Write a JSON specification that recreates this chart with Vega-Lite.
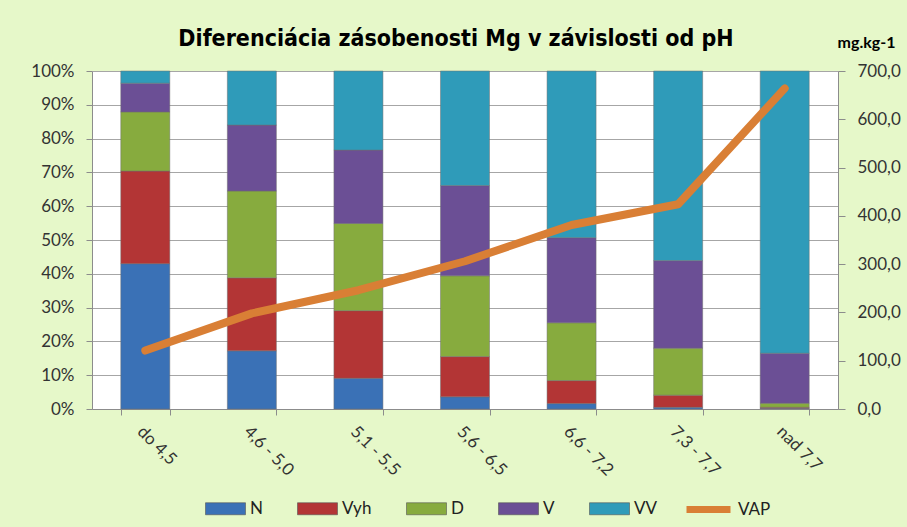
{
  "$schema": "https://vega.github.io/schema/vega-lite/v6.json",
  "width": 746,
  "height": 338,
  "autosize": {"type": "none"},
  "padding": {"left": 92, "top": 71, "right": 69, "bottom": 118},
  "background": "#e6f8c9",
  "config": {
    "view": {"fill": "white", "stroke": null},
    "font": "Lato",
    "axis": {"labelFont": "Lato", "labelFontSize": 17, "labelColor": "#333333", "domainColor": "#8c8c8c", "tickColor": "#8c8c8c"}
  },
  "title": {
    "text": "Diferenciácia zásobenosti Mg v závislosti od pH",
    "font": "Liberation Sans Narrow, DejaVu Sans Condensed, sans-serif",
    "fontSize": 23,
    "fontWeight": "bold",
    "color": "#000000",
    "anchor": "middle",
    "dx": -9,
    "offset": -17
  },
  "datasets": {
    "bars": [
      {"cat": "do 4,5", "series": "N", "value": 43.0},
      {"cat": "do 4,5", "series": "Vyh", "value": 27.4},
      {"cat": "do 4,5", "series": "D", "value": 17.5},
      {"cat": "do 4,5", "series": "V", "value": 8.5},
      {"cat": "do 4,5", "series": "VV", "value": 3.6},
      {"cat": "4,6 - 5,0", "series": "N", "value": 17.2},
      {"cat": "4,6 - 5,0", "series": "Vyh", "value": 21.6},
      {"cat": "4,6 - 5,0", "series": "D", "value": 25.7},
      {"cat": "4,6 - 5,0", "series": "V", "value": 19.5},
      {"cat": "4,6 - 5,0", "series": "VV", "value": 16.0},
      {"cat": "5,1 - 5,5", "series": "N", "value": 9.1},
      {"cat": "5,1 - 5,5", "series": "Vyh", "value": 20.0},
      {"cat": "5,1 - 5,5", "series": "D", "value": 25.8},
      {"cat": "5,1 - 5,5", "series": "V", "value": 21.7},
      {"cat": "5,1 - 5,5", "series": "VV", "value": 23.4},
      {"cat": "5,6 - 6,5", "series": "N", "value": 3.6},
      {"cat": "5,6 - 6,5", "series": "Vyh", "value": 11.9},
      {"cat": "5,6 - 6,5", "series": "D", "value": 23.9},
      {"cat": "5,6 - 6,5", "series": "V", "value": 26.7},
      {"cat": "5,6 - 6,5", "series": "VV", "value": 33.9},
      {"cat": "6,6 - 7,2", "series": "N", "value": 1.6},
      {"cat": "6,6 - 7,2", "series": "Vyh", "value": 6.8},
      {"cat": "6,6 - 7,2", "series": "D", "value": 17.1},
      {"cat": "6,6 - 7,2", "series": "V", "value": 25.2},
      {"cat": "6,6 - 7,2", "series": "VV", "value": 49.3},
      {"cat": "7,3 - 7,7", "series": "N", "value": 0.5},
      {"cat": "7,3 - 7,7", "series": "Vyh", "value": 3.6},
      {"cat": "7,3 - 7,7", "series": "D", "value": 13.9},
      {"cat": "7,3 - 7,7", "series": "V", "value": 25.9},
      {"cat": "7,3 - 7,7", "series": "VV", "value": 56.1},
      {"cat": "nad 7,7", "series": "N", "value": 0.2},
      {"cat": "nad 7,7", "series": "Vyh", "value": 0.3},
      {"cat": "nad 7,7", "series": "D", "value": 1.2},
      {"cat": "nad 7,7", "series": "V", "value": 14.8},
      {"cat": "nad 7,7", "series": "VV", "value": 83.5}
    ],
    "vap": [
      {"cat": "do 4,5", "vap": 121},
      {"cat": "4,6 - 5,0", "vap": 198},
      {"cat": "5,1 - 5,5", "vap": 246},
      {"cat": "5,6 - 6,5", "vap": 306},
      {"cat": "6,6 - 7,2", "vap": 381},
      {"cat": "7,3 - 7,7", "vap": 424},
      {"cat": "nad 7,7", "vap": 664}
    ]
  },
  "layer": [
    {
      "data": {"name": "bars"},
      "transform": [{"calculate": "indexof(['N','Vyh','D','V','VV'], datum.series)", "as": "stackOrder"}],
      "mark": {"type": "bar", "stroke": "#6f6f6f", "strokeWidth": 0.7, "strokeOpacity": 0.7},
      "encoding": {
        "x": {
          "field": "cat", "type": "nominal", "sort": null,
          "scale": {"paddingInner": 0.54, "paddingOuter": 0.27},
          "axis": {"title": null, "labelAngle": 45, "labelAlign": "left", "labelBaseline": "top", "labelPadding": 8, "tickBand": "extent", "tickSize": 6}
        },
        "y": {
          "field": "value", "type": "quantitative", "stack": "normalize",
          "scale": {"domain": [0, 1]},
          "axis": {"title": null, "format": ".0%", "values": [0, 0.1, 0.2, 0.3, 0.4, 0.5, 0.6, 0.7, 0.8, 0.9, 1], "grid": true, "gridColor": "#a6a6a6", "tickSize": 6, "labelPadding": 12}
        },
        "order": {"field": "stackOrder", "type": "quantitative", "sort": "ascending"},
        "fill": {
          "field": "series", "type": "nominal", "sort": ["N", "Vyh", "D", "V", "VV"],
          "scale": {"domain": ["N", "Vyh", "D", "V", "VV"], "range": ["#3a71b6", "#b33535", "#87ab3e", "#6b4f95", "#2f9bb9"]},
          "legend": {"title": null, "orient": "none", "direction": "horizontal", "legendX": 113, "legendY": 417, "symbolType": "M-1,-0.3H1V0.3H-1Z", "symbolSize": 1600, "symbolStrokeColor": "#555555", "symbolStrokeWidth": 0.6, "labelFont": "Lato", "labelFontSize": 17, "labelColor": "#222222", "labelOffset": 4, "columnPadding": 33}
        }
      }
    },
    {
      "data": {"name": "vap"},
      "mark": {"type": "line", "strokeWidth": 8, "strokeCap": "round", "strokeJoin": "round"},
      "encoding": {
        "x": {"field": "cat", "type": "nominal", "sort": null},
        "y": {
          "field": "vap", "type": "quantitative",
          "scale": {"domain": [0, 700]},
          "axis": {"orient": "right", "values": [0, 100, 200, 300, 400, 500, 600, 700], "labelExpr": "replace(format(datum.value, '.1f'), '.', ',')", "grid": false, "tickSize": 7, "labelPadding": 12, "title": "mg.kg-1", "titleAngle": 0, "titleX": 28, "titleY": -29, "titleAlign": "center", "titleBaseline": "middle", "titleFont": "Lato", "titleFontSize": 16, "titleFontWeight": "bold", "titleColor": "#000000"}
        },
        "stroke": {
          "datum": "VAP", "type": "nominal",
          "scale": {"domain": ["VAP"], "range": ["#d97f35"]},
          "legend": {"title": null, "orient": "none", "direction": "horizontal", "legendX": 591, "legendY": 413, "symbolType": "M-1,0H1", "symbolSize": 1936, "symbolStrokeWidth": 7, "labelFont": "Lato", "labelFontSize": 17, "labelColor": "#222222", "labelOffset": 4}
        }
      }
    }
  ],
  "resolve": {"scale": {"y": "independent"}}
}
